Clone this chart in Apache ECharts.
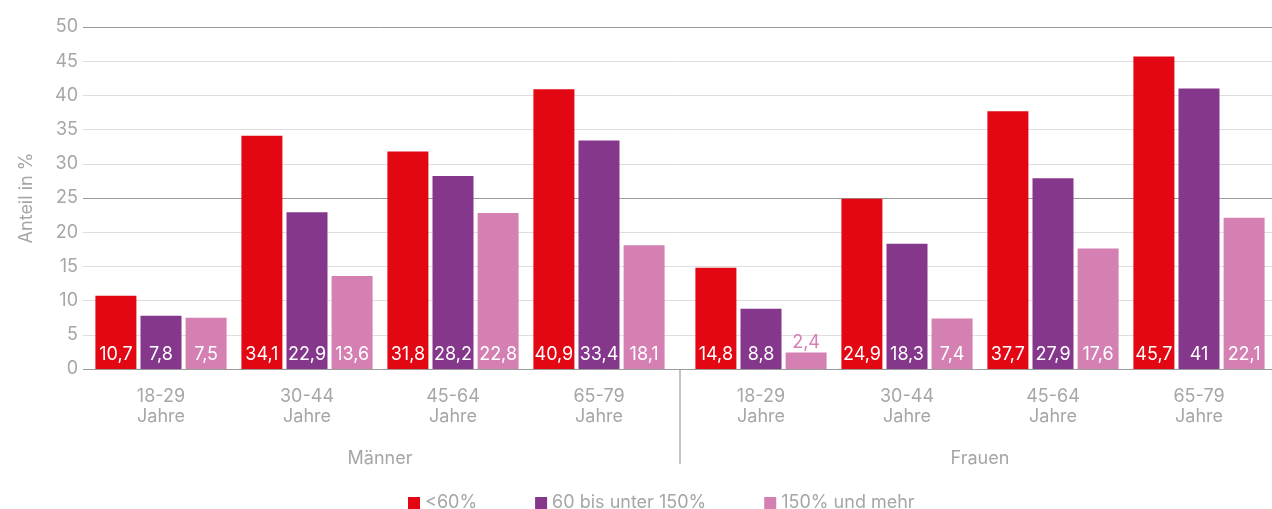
<!DOCTYPE html>
<html>
<head>
<meta charset="utf-8">
<script src="https://cdn.jsdelivr.net/npm/echarts@6/dist/echarts.min.js"></script>
<style>
  html, body { margin: 0; padding: 0; background: #fff; }
  #chart { width: 1272px; height: 509px; }
</style>
</head>
<body>
<div id="chart"></div>
<script>
// Age groups, shown once for men and once for women
const ageGroups = ['18-29\nJahre', '30-44\nJahre', '45-64\nJahre', '65-79\nJahre'];
const genders = ['Männer', 'Frauen'];
const seriesNames = ['<60%', '60 bis unter 150%', '150% und mehr'];
const colors = ['#e30613', '#84378b', '#d580b3'];

// Share in % per income group
const maennerLow  = [10.7, 34.1, 31.8, 40.9];
const maennerMid  = [7.8, 22.9, 28.2, 33.4];
const maennerHigh = [7.5, 13.6, 22.8, 18.1];
const frauenLow   = [14.8, 24.9, 37.7, 45.7];
const frauenMid   = [8.8, 18.3, 27.9, 41];
const frauenHigh  = [2.4, 7.4, 17.6, 22.1];

const yTicks = [0, 5, 10, 15, 20, 25, 30, 35, 40, 45, 50];

const labelFont = 'Inter, "Noto Sans", sans-serif';
const grey = '#a6a6a6';
const FS = 18;

const fmt = v => String(v).replace('.', ',');

function barData(values, color) {
  return values.map(v => {
    const small = v < 5;
    return {
      value: v,
      label: {
        show: true,
        position: small ? 'top' : 'insideBottom',
        distance: small ? 1 : 5,
        color: small ? color : '#fff',
        fontSize: FS,
        fontFamily: labelFont,
        formatter: p => fmt(p.value)
      }
    };
  });
}

const groups = [
  [maennerLow, maennerMid, maennerHigh],
  [frauenLow, frauenMid, frauenHigh]
];

const series = [];
groups.forEach((g, gi) => {
  g.forEach((vals, si) => {
    series.push({
      name: seriesNames[si],
      type: 'bar',
      xAxisIndex: gi + 1,
      yAxisIndex: gi + 1,
      barWidth: 41,
      barGap: '10%',
      itemStyle: { color: colors[si] },
      data: barData(vals, colors[si])
    });
  });
});

const TOP = 27, BOTTOM = 140;

const chart = echarts.init(document.getElementById('chart'));
chart.setOption({
  animation: false,
  grid: [
    { left: 83, right: 0, top: TOP, bottom: BOTTOM },
    { left: 88, width: 584, top: TOP, bottom: BOTTOM },
    { left: 688, right: 0, top: TOP, bottom: BOTTOM }
  ],
  xAxis: [
    { gridIndex: 0, type: 'category', data: ['x'], show: false },
    ...genders.map((name, i) => ({
      gridIndex: i + 1,
      type: 'category',
      data: ageGroups,
      name: name,
      nameLocation: 'middle',
      nameGap: 81,
      nameTextStyle: { color: grey, fontSize: FS, fontFamily: labelFont },
      axisLine: { show: false },
      axisTick: { show: false },
      axisLabel: {
        color: grey, fontSize: FS, fontFamily: labelFont,
        lineHeight: 20, margin: 18
      }
    }))
  ],
  yAxis: [
    {
      gridIndex: 0,
      type: 'value',
      min: yTicks[0],
      max: yTicks[yTicks.length - 1],
      interval: 5,
      name: 'Anteil in %',
      nameLocation: 'middle',
      nameGap: 47,
      nameTextStyle: { color: grey, fontSize: FS, fontFamily: labelFont },
      axisLine: { show: false },
      axisTick: { show: false },
      axisLabel: { color: grey, fontSize: FS, fontFamily: labelFont, margin: 5 },
      splitLine: {
        lineStyle: { color: ['#9a9a9a', '#dedede', '#dedede', '#dedede', '#dedede'], width: 1 }
      }
    },
    { gridIndex: 1, type: 'value', min: 0, max: 50, show: false },
    { gridIndex: 2, type: 'value', min: 0, max: 50, show: false }
  ],
  legend: {
    data: seriesNames,
    left: 403,
    top: 489,
    itemWidth: 12,
    itemHeight: 12,
    itemGap: 58,
    icon: 'rect',
    textStyle: { color: grey, fontSize: FS, fontFamily: labelFont }
  },
  graphic: [{
    type: 'line',
    shape: { x1: 680, y1: 369, x2: 680, y2: 464 },
    style: { stroke: '#b0b0b0', lineWidth: 1.5 }
  }],
  series: series
});
</script>
</body>
</html>
